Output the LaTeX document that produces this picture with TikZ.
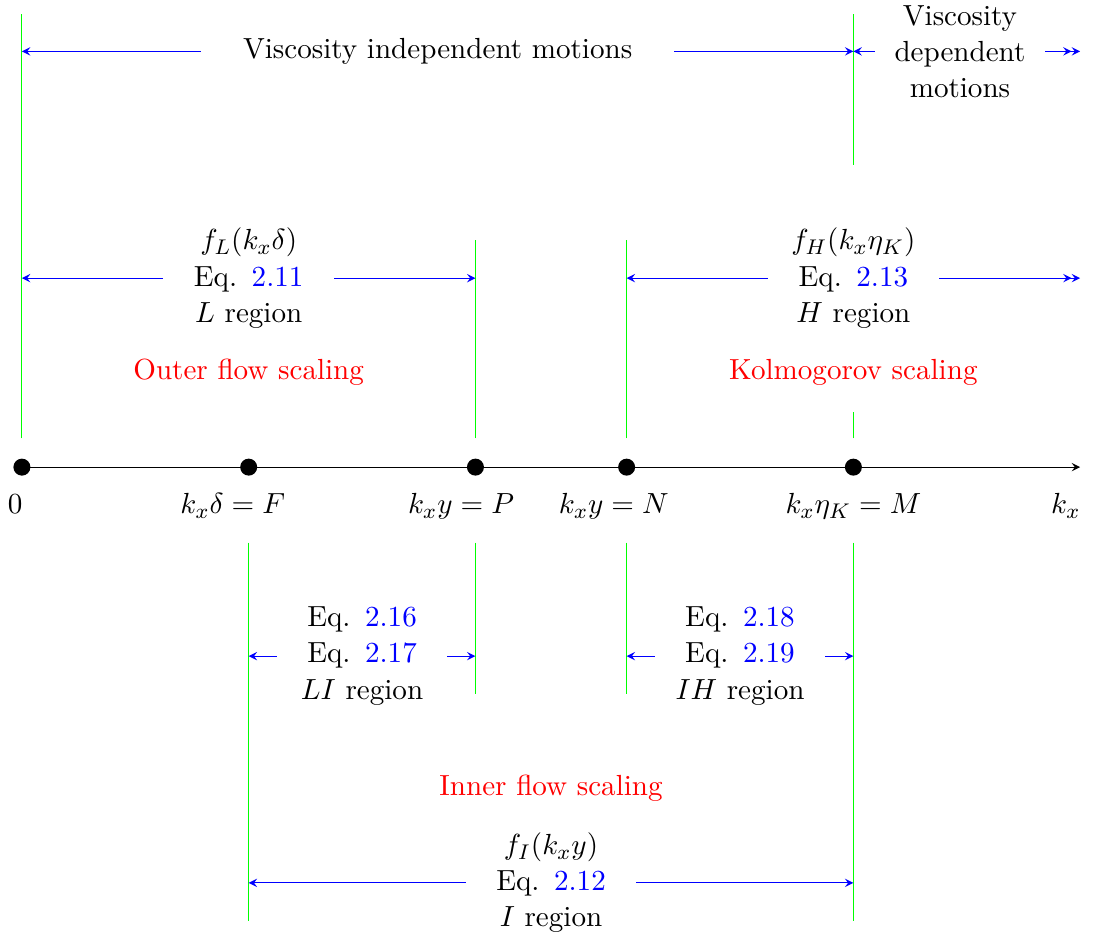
\documentclass[11pt,tikz,border=0pt]{standalone}
\usepackage{amsmath}
\usepackage{tikz}
\usetikzlibrary{positioning}
\usepackage{xcolor}
\newcommand{\EqRef}[1]{Eq. \textcolor{blue}{#1}}

\begin{document}
\begin{tikzpicture}[
  dot/.style={circle, fill=black, inner sep=0pt, minimum size=6.4pt},
  bound/.style={green},
  arr/.style={<->, blue, >=stealth},
  lbl/.style={midway, fill=white, text=black, text width=2cm, align=center},
  scl/.style={red},
  axlbl/.style={anchor=base},
]
\useasboundingbox (-0.29,-6.2) rectangle (14.17,6.18);

% Wavenumber axis
\node[dot] (o) at (0,0) {};
\node[dot] (F) at (3,0) {};
\node[dot] (P) at (6,0) {};
\node[dot] (N) at (8,0) {};
\node[dot] (M) at (11,0) {};
\coordinate (kx) at (14,0);
\draw[->, >=stealth] (o.center) -- (kx);

\node[axlbl] (lo) at (-0.09,-0.62) {$0$};
\node[axlbl] (lF) at (2.79,-0.62) {$k_x\delta = F$};
\node[axlbl] (lP) at (5.81,-0.62) {$k_xy = P$};
\node[axlbl] (lN) at (7.83,-0.62) {$k_xy = N$};
\node[axlbl] (lM) at (11,-0.62) {$k_x\eta_K = M$};
\node[axlbl] (lkx) at (13.81,-0.62) {$k_x$};

% Region boundaries above the axis
\draw[bound] (0,0.38) -- (0,6);
\draw[bound] (6,0.38) -- (6,3);
\draw[bound] (8,0.38) -- (8,3);
\draw[bound] (11,4) -- (11,6);
\draw[bound] (11,0.38) -- (11,0.73);

% Region boundaries below the axis
\draw[bound] (3,-1) -- (3,-6);
\draw[bound] (6,-1) -- (6,-3);
\draw[bound] (8,-1) -- (8,-3);
\draw[bound] (11,-1) -- (11,-6);

% Viscosity
\coordinate (visO) at (0,5.5);
\coordinate (visM) at (11,5.5);
\coordinate (visR) at (14,5.5);
\draw[arr] (visO) -- (visM) node[lbl, text width=6cm] {Viscosity independent motions};
\draw[arr, <->>] (visM) -- (visR) node[lbl, pos=0.47] {Viscosity\\dependent\\motions};

% Outer and Kolmogorov regions
\coordinate (Lo) at (0,2.5);
\coordinate (LP) at (6,2.5);
\coordinate (HN) at (8,2.5);
\coordinate (HR) at (14,2.5);
\draw[arr] (Lo) -- (LP) node[lbl] {$f_L(k_x\delta)$\\\EqRef{2.11}\\$L$ region};
\draw[arr, <->>] (HN) -- (HR) node[lbl] {$f_H(k_x\eta_K)$\\\EqRef{2.13}\\$H$ region};
\node[scl] (outer) at (3,1.25) {Outer flow scaling};
\node[scl] (kolmo) at (11,1.25) {Kolmogorov scaling};

% Overlap regions
\coordinate (LIF) at (3,-2.5);
\coordinate (LIP) at (6,-2.5);
\coordinate (IHN) at (8,-2.5);
\coordinate (IHM) at (11,-2.5);
\draw[arr] (LIF) -- (LIP) node[lbl] {\EqRef{2.16}\\\EqRef{2.17}\\$LI$ region};
\draw[arr] (IHN) -- (IHM) node[lbl] {\EqRef{2.18}\\\EqRef{2.19}\\$IH$ region};

% Inner region
\node[scl] (inner) at (7,-4.25) {Inner flow scaling};
\coordinate (IF) at (3,-5.5);
\coordinate (IM) at (11,-5.5);
\draw[arr] (IF) -- (IM) node[lbl] {$f_I(k_xy)$\\\EqRef{2.12}\\$I$ region};

\end{tikzpicture}
\end{document}
